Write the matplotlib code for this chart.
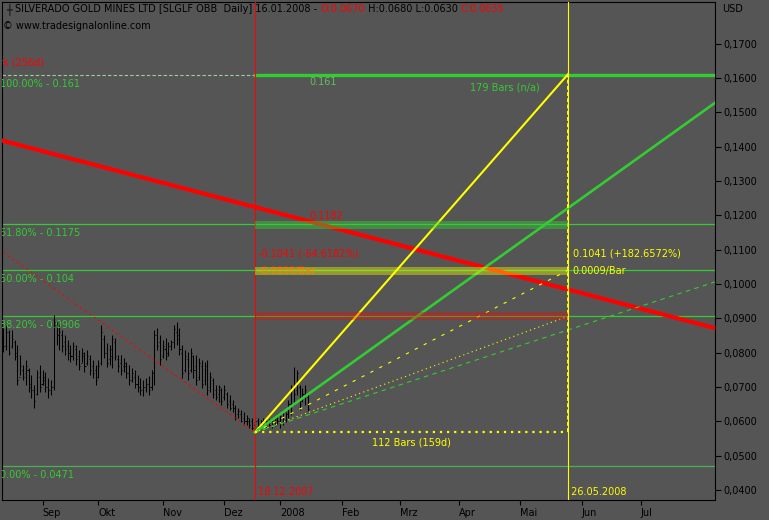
import numpy as np
import pandas as pd
import matplotlib.pyplot as plt
from matplotlib.ticker import FuncFormatter


# Daily bars of SLGLF, bar index 0 = 18.12.2007 (low of the move)
bar_start = -90
highs = [0.0872, 0.0880, 0.0866, 0.0866, 0.0837, 0.0822, 0.0793, 0.0764, 0.0779, 0.0755,
         0.0735, 0.0706, 0.0749, 0.0764, 0.0749, 0.0744, 0.0726, 0.0720, 0.0910, 0.0895,
         0.0880, 0.0866, 0.0851, 0.0837, 0.0822, 0.0831, 0.0822, 0.0808, 0.0813, 0.0802,
         0.0808, 0.0793, 0.0779, 0.0764, 0.0779, 0.0880, 0.0851, 0.0828, 0.0822, 0.0851,
         0.0843, 0.0793, 0.0793, 0.0784, 0.0773, 0.0764, 0.0755, 0.0749, 0.0735, 0.0726,
         0.0720, 0.0726, 0.0732, 0.0749, 0.0866, 0.0872, 0.0851, 0.0837, 0.0843, 0.0831,
         0.0837, 0.0880, 0.0889, 0.0872, 0.0822, 0.0808, 0.0802, 0.0813, 0.0793, 0.0793,
         0.0784, 0.0779, 0.0773, 0.0779, 0.0744, 0.0726, 0.0706, 0.0706, 0.0697, 0.0706,
         0.0685, 0.0677, 0.0662, 0.0647, 0.0639, 0.0633, 0.0627, 0.0618, 0.0610, 0.0610,
         0.0604, 0.0610, 0.0604, 0.0610, 0.0604, 0.0607, 0.0610, 0.0615, 0.0621, 0.0618,
         0.0633, 0.0627, 0.0662, 0.0706, 0.0758, 0.0749, 0.0706, 0.0697, 0.0706, 0.0680]
lows = [0.0802, 0.0808, 0.0793, 0.0813, 0.0779, 0.0706, 0.0735, 0.0720, 0.0706, 0.0685,
        0.0668, 0.0639, 0.0677, 0.0685, 0.0706, 0.0685, 0.0668, 0.0677, 0.0691, 0.0822,
        0.0808, 0.0802, 0.0793, 0.0779, 0.0773, 0.0779, 0.0764, 0.0749, 0.0773, 0.0744,
        0.0764, 0.0735, 0.0726, 0.0706, 0.0726, 0.0764, 0.0784, 0.0758, 0.0764, 0.0755,
        0.0779, 0.0744, 0.0735, 0.0744, 0.0726, 0.0706, 0.0714, 0.0697, 0.0685, 0.0677,
        0.0674, 0.0685, 0.0677, 0.0691, 0.0706, 0.0808, 0.0764, 0.0784, 0.0779, 0.0790,
        0.0808, 0.0813, 0.0822, 0.0793, 0.0726, 0.0744, 0.0720, 0.0744, 0.0726, 0.0706,
        0.0720, 0.0697, 0.0706, 0.0677, 0.0685, 0.0668, 0.0662, 0.0656, 0.0647, 0.0662,
        0.0639, 0.0633, 0.0627, 0.0604, 0.0610, 0.0598, 0.0589, 0.0589, 0.0580, 0.0575,
        0.0569, 0.0580, 0.0580, 0.0583, 0.0580, 0.0586, 0.0580, 0.0586, 0.0592, 0.0580,
        0.0589, 0.0598, 0.0610, 0.0618, 0.0647, 0.0677, 0.0633, 0.0656, 0.0647, 0.0630]
opens = [0.0850, 0.0820, 0.0860, 0.0820, 0.0830, 0.0800, 0.0730, 0.0750, 0.0740, 0.0750,
         0.0710, 0.0690, 0.0680, 0.0730, 0.0710, 0.0720, 0.0700, 0.0690, 0.0700, 0.0880,
         0.0850, 0.0850, 0.0830, 0.0820, 0.0800, 0.0790, 0.0810, 0.0790, 0.0770, 0.0790,
         0.0770, 0.0780, 0.0760, 0.0750, 0.0730, 0.0770, 0.0840, 0.0800, 0.0780, 0.0790,
         0.0830, 0.0780, 0.0770, 0.0760, 0.0760, 0.0740, 0.0720, 0.0730, 0.0710, 0.0700,
         0.0690, 0.0700, 0.0710, 0.0700, 0.0740, 0.0850, 0.0830, 0.0790, 0.0810, 0.0800,
         0.0820, 0.0830, 0.0860, 0.0850, 0.0800, 0.0750, 0.0780, 0.0750, 0.0790, 0.0760,
         0.0730, 0.0760, 0.0720, 0.0750, 0.0700, 0.0720, 0.0690, 0.0680, 0.0690, 0.0670,
         0.0680, 0.0660, 0.0650, 0.0640, 0.0620, 0.0620, 0.0610, 0.0600, 0.0600, 0.0600,
         0.0590, 0.0600, 0.0590, 0.0600, 0.0590, 0.0600, 0.0590, 0.0600, 0.0605, 0.0600,
         0.0610, 0.0605, 0.0620, 0.0650, 0.0700, 0.0690, 0.0700, 0.0660, 0.0670, 0.0670]
closes = [0.0820, 0.0860, 0.0800, 0.0840, 0.0790, 0.0720, 0.0760, 0.0730, 0.0760, 0.0700,
          0.0690, 0.0660, 0.0740, 0.0700, 0.0730, 0.0700, 0.0690, 0.0700, 0.0890, 0.0850,
          0.0860, 0.0820, 0.0810, 0.0800, 0.0790, 0.0820, 0.0780, 0.0760, 0.0800, 0.0760,
          0.0790, 0.0750, 0.0740, 0.0720, 0.0760, 0.0860, 0.0800, 0.0770, 0.0810, 0.0840,
          0.0790, 0.0760, 0.0750, 0.0770, 0.0740, 0.0720, 0.0740, 0.0710, 0.0700, 0.0690,
          0.0700, 0.0710, 0.0690, 0.0740, 0.0850, 0.0820, 0.0780, 0.0820, 0.0790, 0.0820,
          0.0830, 0.0870, 0.0840, 0.0810, 0.0740, 0.0790, 0.0740, 0.0800, 0.0750, 0.0720,
          0.0770, 0.0710, 0.0760, 0.0690, 0.0730, 0.0680, 0.0670, 0.0700, 0.0660, 0.0690,
          0.0650, 0.0640, 0.0640, 0.0610, 0.0630, 0.0600, 0.0600, 0.0610, 0.0590, 0.0580,
          0.0600, 0.0590, 0.0600, 0.0590, 0.0600, 0.0590, 0.0605, 0.0610, 0.0600, 0.0615,
          0.0600, 0.0620, 0.0650, 0.0700, 0.0680, 0.0740, 0.0650, 0.0680, 0.0690, 0.0635]

# trading calendar used for the time axis
holidays = ['2007-12-25', '2008-01-01']
low_date = '2007-12-18'
target_date = '2008-05-26'
month_labels = ['Sep', 'Okt', 'Nov', 'Dez', '2008', 'Feb', 'Mrz', 'Apr', 'Mai', 'Jun', 'Jul']

# fibonacci retracement levels
fib_pct = ['100.00%', '61.80%', '50.00%', '38.20%', '0.00%']
fib_vals = [0.161, 0.1175, 0.104, 0.0906, 0.0471]

# swing high (179 bars back) and swing low
high_bar = -179
high_price = 0.1611
low_price = 0.0568

# trend line (value at the low bar and at the target bar)
trend_vals = [0.1224, 0.0984]
trend_last = 0.1182

# fan lines from the low, value reached on the target date
fan_ends = [0.1611, 0.1221, 0.104, 0.0906, 0.0866]
fan_colors = ['#ffff00', '#33cc33', '#ffff00', '#ffff00', '#33cc33']
fan_styles = ['-', '-', (0, (3, 6)), (0, (1, 3)), (0, (4, 4))]
fan_widths = [1.5, 1.9, 0.8, 0.8, 0.8]
fan_extend = [False, True, False, False, True]

# band colours around the retracement levels in the projection window
bands = [(0.1160, 0.1183, '#33cc33', 0.45), (0.1026, 0.1049, '#ffff00', 0.40),
         (0.0895, 0.0917, '#ff0000', 0.35)]

BG = '#555555'
FS = 7
W, H = 769, 520

days = pd.bdate_range('2007-08-01', '2008-07-31')
days = days[~days.isin(pd.to_datetime(holidays))]
pos0 = days.get_loc(pd.Timestamp(low_date))
day_idx = pd.Series(np.arange(len(days)) - pos0, index=days)
month_first = day_idx.groupby([days.year, days.month]).first().values[1:]
target_bar = day_idx[pd.Timestamp(target_date)]
last_bar = bar_start + len(highs) - 1

fig = plt.figure(figsize=(W / 100, H / 100), dpi=100, facecolor=BG)
ax = fig.add_axes([2 / W, 20 / H, 713 / W, 498 / H], facecolor=BG)
x_lo, x_hi = -90.5, 164.6
ax.set_xlim(x_lo, x_hi)
ax.set_ylim(0.03707, 0.18214)

# Fibonacci levels
for pct, val in zip(fib_pct, fib_vals):
    if val == fib_vals[0]:
        ax.plot([x_lo, 0], [val, val], color='#9fcf9f', lw=0.8, ls=(0, (3, 2)), zorder=1)
        ax.plot([0, x_hi], [val, val], color='#33cc33', lw=2.4, zorder=3)
    else:
        c = '#4caf50' if val == fib_vals[-1] else '#33cc33'
        ax.axhline(val, color=c, lw=0.9, zorder=1)
    ax.annotate(f'{pct} - {val:g}', (x_lo, val), xytext=(-1.5, -6.5), textcoords='offset points',
                color='#33cc33', fontsize=FS, ha='left', va='center', annotation_clip=False,
                clip_on=True, zorder=6)

# price bars
bars = np.arange(bar_start, last_bar + 1)
ax.vlines(bars, lows, highs, color='black', lw=0.75, zorder=2)
ax.hlines(opens, bars - 0.38, bars, color='black', lw=0.75, zorder=2)
ax.hlines(closes, bars, bars + 0.38, color='black', lw=0.75, zorder=2)

# trend line and the falling swing line
ax.axline((0, trend_vals[0]), (target_bar, trend_vals[1]), color='#ff0000', lw=3, zorder=3)
ax.plot([high_bar, 0], [high_price, low_price], color='#ff0000', lw=0.8, ls=(0, (2, 3)), zorder=3)

# fan lines
for end, c, ls, lw, ext in zip(fan_ends, fan_colors, fan_styles, fan_widths, fan_extend):
    x1 = x_hi if ext else target_bar
    y1 = low_price + (end - low_price) * x1 / target_bar
    ax.plot([0, x1], [low_price, y1], color=c, ls=ls, lw=lw, zorder=4)

# vertical markers and projection box
ax.axvline(0, color='#ff0000', lw=0.8, zorder=3)
ax.axvline(target_bar, color='#ffff00', lw=0.8, zorder=3)
ax.plot([0, target_bar], [low_price, low_price], color='#ffff00', lw=1.6, ls=(0, (1, 2.2)), zorder=4)
ax.plot([target_bar, target_bar], [low_price, high_price], color='#ffff00', lw=1.4,
        ls=(0, (2, 1.2)), zorder=4)

for y0, y1, c, a in bands:
    ax.fill_between([0, target_bar], y0, y1, color=c, alpha=a, lw=0, zorder=5)

# texts on the chart
mid = (low_price + high_price) / 2
ax.text(0, 0.0380, ' ' + pd.Timestamp(low_date).strftime('%d.%m.%Y'), color='#ff0000',
        fontsize=FS, ha='left', va='bottom', zorder=6)
ax.text(target_bar, 0.0380, ' ' + pd.Timestamp(target_date).strftime('%d.%m.%Y'), color='#ffff00',
        fontsize=FS, ha='left', va='bottom', zorder=6)
ax.annotate(f'{target_bar} Bars (159d)', (target_bar / 2, low_price), xytext=(0, -3.5),
            textcoords='offset points', color='#ffff00', fontsize=FS, ha='center', va='top', zorder=6)
ax.annotate(f'{-high_bar} Bars (256d)', (high_bar / 2, high_price), xytext=(0, 4.5),
            textcoords='offset points', color='#ff0000', fontsize=FS, ha='center', va='bottom',
            clip_on=True, zorder=6)
ax.annotate(f'{-high_bar} Bars (n/a)', (-high_bar / 2, high_price), xytext=(0, -6),
            textcoords='offset points', color='#33cc33', fontsize=FS, ha='center', va='top',
            zorder=6)
ax.annotate(f'{fib_vals[0]:g}', (last_bar, high_price), xytext=(1, -2), textcoords='offset points',
            color='#66bb66', fontsize=FS, ha='left', va='top', zorder=6)
ax.annotate(f'{trend_last:.4f}', (last_bar, trend_last), xytext=(1, 0.5), textcoords='offset points',
            color='#ff0000', fontsize=FS, ha='left', va='bottom', zorder=6)

drop = high_price - low_price - 0.0002
rise = high_price - low_price
ax.annotate(f'-{drop:.4f} (-{drop / high_price * 100:.4f}%)', (0, mid), xytext=(2.5, 0),
            textcoords='offset points', color='#ff0000', fontsize=FS, ha='left', va='center', zorder=4)
ax.annotate(f'-{drop / -high_bar:.4f}/Bar', (0, mid), xytext=(2.5, -13),
            textcoords='offset points', color='#ff2a00', fontsize=FS, ha='left', va='center', zorder=4)
ax.annotate('0.1041 (+182.6572%)', (target_bar, mid), xytext=(3.5, 0),
            textcoords='offset points', color='#ffff00', fontsize=FS, ha='left', va='center', zorder=6)
ax.annotate(f'{rise / target_bar:.4f}/Bar', (target_bar, mid), xytext=(3.5, -13),
            textcoords='offset points', color='#ffff00', fontsize=FS, ha='left', va='center', zorder=6)

# axes styling
for sp in ax.spines.values():
    sp.set_color('black')
    sp.set_linewidth(0.8)
ax.yaxis.tick_right()
ax.set_yticks(np.arange(0.04, 0.1701, 0.01))
ax.yaxis.set_major_formatter(FuncFormatter(lambda v, p: f'{v:.4f}'.replace('.', ',')))
ax.set_xticks(month_first)
ax.set_xticklabels(month_labels)
for lab in ax.get_xticklabels():
    lab.set_horizontalalignment('left')
ax.tick_params(axis='both', direction='out', length=3.5, width=0.8, color='black',
               labelcolor='black', labelsize=FS, pad=2)
ax.tick_params(axis='y', length=4.5, pad=1.5)

fig.text(722 / W, 1 - 9 / H, 'USD', fontsize=FS, color='black', ha='left', va='center')

# header line with mixed colours
renderer = fig.canvas.get_renderer()
hx = 6
for s, c in [('\u253c ', 'black'), ('SILVERADO GOLD MINES LTD [SLGLF OBB  Daily] 16.01.2008 - ', 'black'),
             ('O:0.0670', '#ff0000'), (' H:0.0680 L:0.0630 ', 'black'), ('C:0.0635', '#ff0000')]:
    t = fig.text(hx / W, 1 - 9 / H, s, fontsize=FS, color=c, ha='left', va='center')
    hx += t.get_window_extent(renderer).width
fig.text(3 / W, 1 - 26 / H, '\u00a9 www.tradesignalonline.com', fontsize=FS, color='black',
         ha='left', va='center')

fig.savefig('out.png', dpi=100, facecolor=BG)
